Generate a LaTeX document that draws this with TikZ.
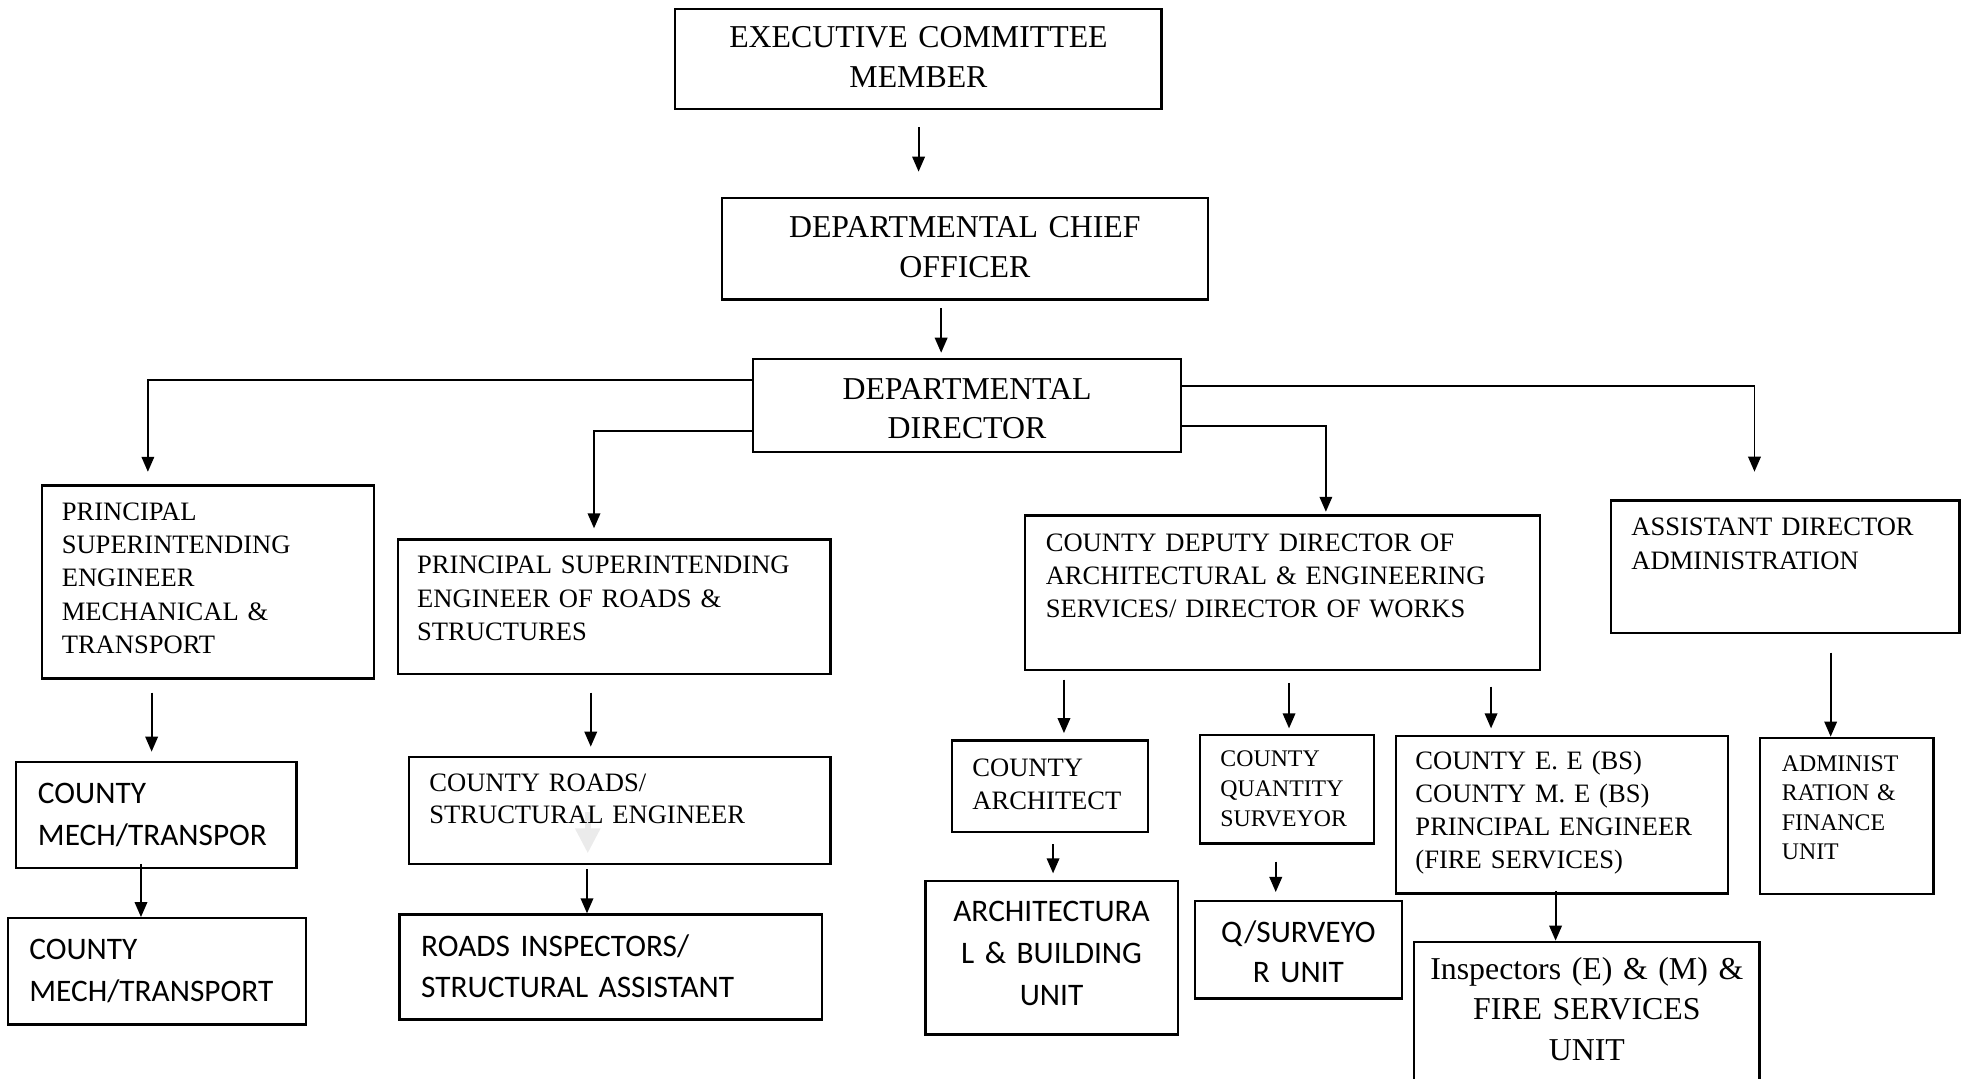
\documentclass[tikz,border=0pt]{standalone}
\usepackage{fontspec}
\setmainfont{Liberation Serif}
\newfontfamily\calib{Carlito}
\usepackage{tikz}
\usetikzlibrary{arrows.meta,positioning}
\hyphenpenalty=10000
\exhyphenpenalty=10000

\tikzset{
  box/.style={draw,line width=1.8pt,anchor=north west,inner ysep=0pt},
  lbox/.style={box,align=left,inner xsep=16pt},
  cbox/.style={box,align=center,inner xsep=10pt},
  fbig/.style={font=\fontsize{25.4}{31.5}\selectfont},
  fmid/.style={font=\fontsize{21.2}{26.5}\selectfont},
  fsml/.style={font=\fontsize{19}{24.2}\selectfont},
  fsans/.style={font=\calib\fontsize{25}{33.6}\selectfont},
  arr/.style={line width=1.5pt,-{Triangle[length=12pt,width=10pt]}},
}

\begin{document}
\begin{tikzpicture}[x=1pt,y=-1pt]
  \clip (0,0) rectangle (1568,861);
  \draw[line width=5pt,black!8,-{Triangle[length=20pt,width=19pt]}] (469,648) -- (469,681);

  \node[cbox,fbig,text width=368pt,text height=31.2pt,text depth=48.8pt] (exec) at (538,6)
    {EXECUTIVE COMMITTEE\\ MEMBER};
  \node[cbox,fbig,text width=368pt,text height=32pt,text depth=49pt] (chief) at (575,157)
    {DEPARTMENTAL CHIEF\\ OFFICER};
  \node[cbox,fbig,text width=321.5pt,text height=32.3pt,text depth=41.7pt] (director) at (600,285.5)
    {DEPARTMENTAL\\ DIRECTOR};

  \node[lbox,fmid,text width=233.2pt,text height=27.9pt,text depth=126.1pt] (psemt) at (32.4,386.5)
    {PRINCIPAL\\ SUPERINTENDING\\ ENGINEER\\ MECHANICAL \&\\ TRANSPORT};
  \node[lbox,fmid,inner xsep=15.4pt,text width=314.3pt,text height=27.4pt,text depth=79.8pt] (psers) at (316.6,429.6)
    {PRINCIPAL SUPERINTENDING\\ ENGINEER OF ROADS \&\\ STRUCTURES};
  \node[lbox,fmid,inner xsep=16.8pt,text width=377.4pt,text height=28.5pt,text depth=94.7pt] (deputy) at (816.8,410.4)
    {COUNTY DEPUTY DIRECTOR OF\\ ARCHITECTURAL \& ENGINEERING\\ SERVICES/ DIRECTOR OF WORKS};
  \node[lbox,font=\fontsize{21.2}{27.4}\selectfont,inner xsep=16.2pt,text width=245.6pt,text height=27.7pt,text depth=77.9pt] (asstdir) at (1284.7,398.4)
    {ASSISTANT DIRECTOR\\ ADMINISTRATION};

  \node[lbox,fsans,inner xsep=17.3pt,text width=189pt,text height=33.5pt,text depth=51.1pt] (mech1) at (12.1,607)
    {COUNTY\\ MECH/TRANSPOR};
  \node[lbox,fsans,inner xsep=17.3pt,text width=203.2pt,text height=32.9pt,text depth=51.9pt] (mech2) at (5.2,731.8)
    {COUNTY\\ MECH/TRANSPORT};
  \node[lbox,font=\fontsize{21.2}{26.1}\selectfont,inner xsep=16.5pt,text width=303.5pt,text height=27.1pt,text depth=58pt] (roadeng) at (325.2,603.3)
    {COUNTY ROADS/\\ STRUCTURAL ENGINEER};
  \node[lbox,font=\calib\fontsize{25}{32.8}\selectfont,inner xsep=17.3pt,text width=302.7pt,text height=33.2pt,text depth=50.6pt] (roadinsp) at (317.9,728.8)
    {ROADS INSPECTORS/\\ STRUCTURAL ASSISTANT};

  \node[lbox,fmid,inner xsep=16.1pt,text width=123.9pt,text height=28.4pt,text depth=44.6pt] (architect) at (758.9,590)
    {COUNTY\\ ARCHITECT};
  \node[lbox,font=\fontsize{19}{24.3}\selectfont,inner xsep=16.3pt,text width=106.1pt,text height=24.7pt,text depth=61.8pt] (qs) at (956.7,585.7)
    {COUNTY\\ QUANTITY\\ SURVEYOR};
  \node[lbox,font=\fontsize{21.2}{26.3}\selectfont,inner xsep=15.8pt,text width=233.6pt,text height=26.6pt,text depth=98.9pt] (fire) at (1112.8,586.5)
    {COUNTY E. E (BS)\\ COUNTY M. E (BS)\\ PRINCIPAL ENGINEER\\ (FIRE SERVICES)};
  \node[lbox,font=\fontsize{19}{23.6}\selectfont,inner xsep=17.4pt,text width=103.6pt,text height=26.6pt,text depth=97.9pt] (admin) at (1403.6,587.8)
    {ADMINIST\\ RATION \&\\ FINANCE\\ UNIT};

  \node[cbox,font=\calib\fontsize{25}{33.5}\selectfont,text width=181.1pt,text height=31.9pt,text depth=90.4pt] (archunit) at (737.7,702.2)
    {ARCHITECTURA\\ L \& BUILDING\\ UNIT};
  \node[cbox,font=\calib\fontsize{25}{32}\selectfont,text width=145.6pt,text height=33.2pt,text depth=44.4pt] (qsunit) at (952.4,718.2)
    {Q/SURVEYO\\ R UNIT};
  \node[cbox,font=\fontsize{25.4}{32.3}\selectfont,text width=255.4pt,text height=30.1pt,text depth=120pt] (fireunit) at (1127.6,750.6)
    {Inspectors (E) \& (M) \&\\ FIRE SERVICES\\ UNIT};

  \draw[arr,shorten <=13.7pt,shorten >=20pt] (exec.south -| 733,0) -- (chief.north -| 733,0);
  \draw[arr,shorten <=6pt,shorten >=4pt] (chief.south -| 751,0) -- (director.north -| 751,0);

  \draw[arr,shorten >=10pt] (director.west |- 0,303) -| (psemt.north -| 118,0);
  \draw[arr,shorten >=8pt] (director.west |- 0,344) -| (psers.north -| 474,0);
  \draw[arr,shorten >=2pt] (director.east |- 0,340) -| (deputy.north -| 1058,0);
  \draw[arr,shorten >=22pt] (director.east |- 0,308) -| (asstdir.north -| 1400,0);

  \draw[arr,shorten <=10.3pt,shorten >=7.2pt] (psemt.south -| 121,0) -- (mech1.north -| 121,0);
  \draw[arr,shorten <=-4pt] (mech1.south -| 112.5,0) -- (mech2.north -| 112.5,0);
  \draw[arr,shorten <=14pt,shorten >=7.5pt] (psers.south -| 471.4,0) -- (roadeng.north -| 471.4,0);
  \draw[arr,shorten <=3.6pt] (roadeng.south -| 468.4,0) -- (roadinsp.north -| 468.4,0);

  \draw[arr,shorten <=7pt,shorten >=5pt] (deputy.south -| 849,0) -- (architect.north -| 849,0);
  \draw[arr,shorten <=9.5pt,shorten >=4.5pt] (deputy.south -| 1028.6,0) -- (qs.north -| 1028.6,0);
  \draw[arr,shorten <=12.4pt,shorten >=5.3pt] (deputy.south -| 1189.8,0) -- (fire.north -| 1189.8,0);
  \draw[arr,shorten <=15pt] (asstdir.south -| 1460.8,0) -- (admin.north -| 1460.8,0);

  \draw[arr,shorten <=9pt,shorten >=5.3pt] (architect.south -| 840.3,0) -- (archunit.north -| 840.3,0);
  \draw[arr,shorten <=13.5pt,shorten >=6.4pt] (qs.south -| 1018,0) -- (qsunit.north -| 1018,0);
  \draw[arr,shorten <=-3pt] (fire.south -| 1241.3,0) -- (fireunit.north -| 1241.3,0);
\end{tikzpicture}
\end{document}
